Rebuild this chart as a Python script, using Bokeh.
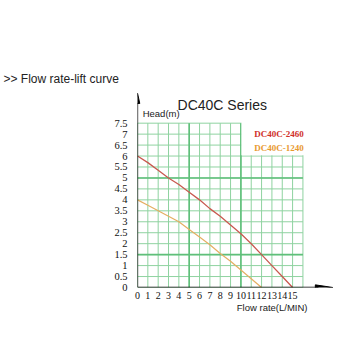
from bokeh.plotting import figure
from bokeh.models import Range1d, FixedTicker, Label, Title
from bokeh.embed import file_html
from bokeh.resources import INLINE

# Pump performance: head (m) versus flow rate (L/min)
flow = [0, 1, 2, 3, 4, 5, 6, 7, 8, 9, 10, 11, 12, 13, 14, 15]
head_2460 = [6.0, 5.7, 5.35, 5.0, 4.7, 4.35, 4.0, 3.6, 3.25, 2.85, 2.45, 2.0, 1.5, 1.0, 0.5, 0.0]
flow_1240 = [0, 1, 2, 3, 4, 5, 6, 7, 8, 9, 10, 11, 12]
head_1240 = [4.0, 3.75, 3.5, 3.25, 3.0, 2.65, 2.3, 1.95, 1.55, 1.2, 0.8, 0.4, 0.0]

series_names = ["DC40C-2460", "DC40C-1240"]
x_ticks = list(range(0, 16))
x_tick_labels = [str(v) for v in x_ticks]
y_ticks = [i * 0.5 for i in range(16)]
y_tick_labels = ["0", "0.5", "1", "1.5", "2", "2.5", "3", "3.5", "4", "4.5",
                 "5", "5.5", "6", "6.5", "7", "7.5"]

X_MAX, Y_MAX = 16, 7.5

p = figure(width=350, height=350, output_backend="svg", toolbar_location=None,
           x_range=Range1d(0, 19.15), y_range=Range1d(0, 8.9),
           min_border_left=137, min_border_right=15, min_border_top=92,
           min_border_bottom=63)
p.outline_line_color = None
p.grid.visible = False
p.background_fill_color = "white"
p.border_fill_color = "white"

# page heading
p.title.text = ">> Flow rate-lift curve"
p.title.align = "left"
p.title.offset = -134
p.title.standoff = 13
p.title.text_font = "Liberation Sans"
p.title.text_font_style = "normal"
p.title.text_font_size = "12px"
p.title.text_color = "#222222"

# grid paper
vx = list(range(0, X_MAX + 1))
p.segment(x0=vx, y0=[0] * len(vx), x1=vx, y1=[Y_MAX] * len(vx),
          line_color="#8fd3a0", line_width=1)
hy = [i * 0.5 for i in range(16)]
p.segment(x0=[0] * len(hy), y0=hy, x1=[X_MAX] * len(hy), y1=hy,
          line_color="#8fd3a0", line_width=1)
# heavier lines
p.segment(x0=[5, 10], y0=[0, 0], x1=[5, 10], y1=[Y_MAX, Y_MAX],
          line_color="#5fbf7a", line_width=1.6)
p.segment(x0=[0, 0], y0=[1.5, 5], x1=[X_MAX, X_MAX], y1=[1.5, 5],
          line_color="#5fbf7a", line_width=1.6)

# legend panel
p.quad(left=[10.05], right=[X_MAX + 0.2], bottom=[6.04], top=[Y_MAX + 0.1],
       fill_color="white", line_color=None)

# curves
p.line(flow, head_2460, line_color="#c9584f", line_width=1.3)
p.line(flow_1240, head_1240, line_color="#e5ae62", line_width=1.2)

# axes lines with arrows
p.segment(x0=[0], y0=[0], x1=[0], y1=[8.4], line_color="black", line_width=1.3)
p.patch([-0.22, 0, 0.22], [8.4, 8.87, 8.4], color="black")
p.segment(x0=[0], y0=[0], x1=[17.5], y1=[0], line_color="black", line_width=1.3)
p.patch([17.2, 18.9, 17.2], [-0.12, 0, 0.12], color="black")

# axes
for ax in (p.xaxis, p.yaxis):
    ax.axis_line_color = None
    ax.major_tick_line_color = None
    ax.minor_tick_line_color = None
    ax.major_label_text_font = "Liberation Serif"
    ax.major_label_text_color = "#111111"

p.xaxis.ticker = FixedTicker(ticks=x_ticks)
p.xaxis.major_label_overrides = dict(zip(x_ticks, x_tick_labels))
p.xaxis.major_label_standoff = -2
p.xaxis.major_label_text_font_size = "10px"
p.yaxis.ticker = FixedTicker(ticks=y_ticks)
p.yaxis.major_label_overrides = dict(zip(y_ticks, y_tick_labels))
p.yaxis.major_label_standoff = 4
p.yaxis.major_label_text_font_size = "10.5px"

# x-axis caption, right-aligned under the axis
p.add_layout(Title(text="Flow rate(L/MIN)", align="right", offset=28, standoff=-4,
                   text_font="Liberation Sans", text_font_style="normal",
                   text_font_size="9.5px", text_color="#222222"), "below")

# texts inside the chart area
p.add_layout(Label(x=8.2, y=8.34, text="DC40C Series", text_align="center",
                   text_baseline="middle", text_font="Liberation Sans",
                   text_font_size="14px", text_color="#222222"))
p.add_layout(Label(x=0.5, y=7.93, text="Head(m)", text_baseline="middle",
                   text_font="Liberation Sans", text_font_size="9.5px",
                   text_color="#222222"))
p.add_layout(Label(x=11.3, y=7.02, text=series_names[0], text_baseline="middle",
                   text_font="Liberation Serif", text_font_style="bold",
                   text_font_size="9px", text_color="#d0302a"))
p.add_layout(Label(x=11.3, y=6.38, text=series_names[1], text_baseline="middle",
                   text_font="Liberation Serif", text_font_style="bold",
                   text_font_size="9px", text_color="#e89a30"))

open("out.html", "w").write(file_html(p, INLINE))
